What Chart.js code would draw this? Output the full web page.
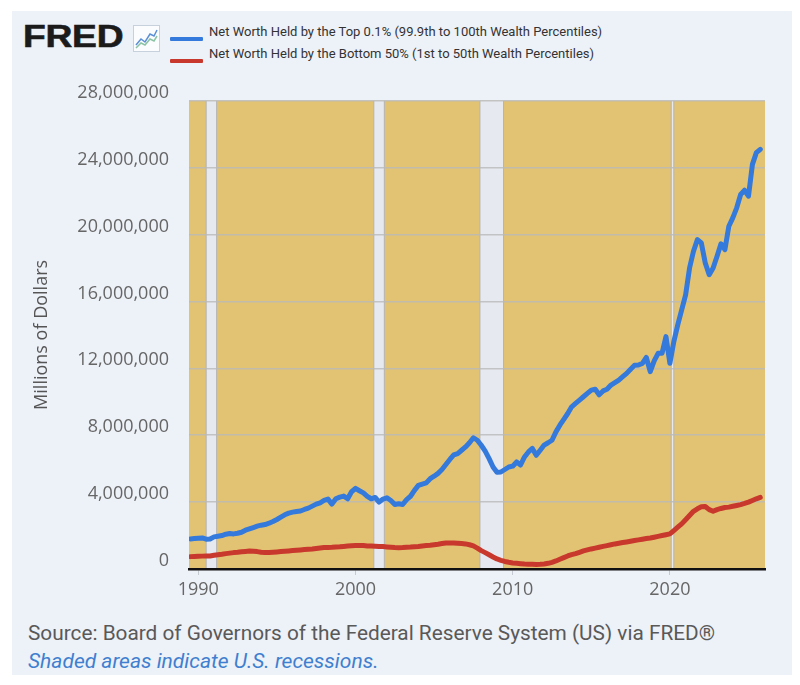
<!DOCTYPE html>
<html>
<head>
<meta charset="utf-8">
<script src="https://cdn.jsdelivr.net/npm/chart.js@4.4.1/dist/chart.umd.min.js"></script>
<style>
html,body{margin:0;padding:0;background:#fff;width:800px;height:685px;overflow:hidden;position:relative}
#panel{position:absolute;left:12px;top:11px;width:780px;height:664px;background:#edf1f8}
#logo{position:absolute;left:23px;top:21px;font:bold 31px "Liberation Sans",Arial,sans-serif;line-height:1;color:#1b1b1b;transform:scaleX(1.2);transform-origin:0 0;letter-spacing:-0.2px;-webkit-text-stroke:0.6px #1b1b1b}
#icon{position:absolute;left:133px;top:25px}
.lg-sw{position:absolute;left:170px;width:33px;height:4px;border-radius:1px}
.lg-tx{position:absolute;left:209px;height:16px;line-height:16px;font:13px Roboto,"Liberation Sans",sans-serif;color:#333;white-space:nowrap}
#chartbox{position:absolute;left:12px;top:70px;width:780px;height:540px}
#source{position:absolute;left:28px;top:621px;height:26px;line-height:26px;font:20.8px Roboto,"Liberation Sans",sans-serif;color:#595959;white-space:nowrap}
#shade{position:absolute;left:28px;top:649px;height:26px;line-height:26px;font:italic 21px Roboto,"Liberation Sans",sans-serif;color:#3f7fcf;white-space:nowrap}
</style>
</head>
<body>
<div id="panel"></div>
<div id="logo">FRED</div>
<svg id="icon" width="27" height="27" viewBox="0 0 27 27">
  <rect x="0.5" y="0.5" width="26" height="26" fill="#fbfcfe" stroke="#c7d1de"/>
  <polyline points="3,20 8,14 12,17 17,9 21,11 24,5" fill="none" stroke="#5b8fd6" stroke-width="1.5"/>
  <polyline points="3,23 8,18 12,20 17,14 21,16 24,11" fill="none" stroke="#8cc3a4" stroke-width="1.5"/>
</svg>
<div id="legend"></div>
<div id="chartbox"><canvas id="c"></canvas></div>
<div id="source">Source: Board of Governors of the Federal Reserve System (US) via FRED®</div>
<div id="shade">Shaded areas indicate U.S. recessions.</div>
<script>
// ---------- DATA ----------
const seriesNames = [
  "Net Worth Held by the Top 0.1% (99.9th to 100th Wealth Percentiles)",
  "Net Worth Held by the Bottom 50% (1st to 50th Wealth Percentiles)"
];
const seriesColors = ["#3479dc", "#c9382c"];

// quarterly observations, 1989-Q3 .. 2025-Q4
const quarters = [];
for (let y = 1989; y <= 2025; y++) {
  for (let q = 1; q <= 4; q++) {
    if (y === 1989 && q < 3) continue;
    quarters.push(y + "-Q" + q);
  }
}

// Millions of Dollars
const top01 = [
  1800000, 1820000,
  1840000, 1860000, 1780000, 1800000,
  1920000, 1960000, 2000000, 2080000,
  2120000, 2100000, 2140000, 2200000,
  2320000, 2400000, 2480000, 2560000,
  2620000, 2660000, 2740000, 2840000,
  2960000, 3100000, 3240000, 3340000,
  3400000, 3440000, 3470000, 3560000,
  3640000, 3760000, 3880000, 3960000,
  4100000, 4180000, 3880000, 4200000,
  4300000, 4360000, 4200000, 4620000,
  4820000, 4680000, 4550000, 4340000,
  4200000, 4280000, 4000000, 4180000,
  4260000, 4100000, 3860000, 3900000,
  3860000, 4150000, 4350000, 4700000,
  5000000, 5080000, 5150000, 5400000,
  5550000, 5720000, 5950000, 6250000,
  6550000, 6820000, 6900000, 7100000,
  7300000, 7550000, 7850000, 7700000,
  7400000, 7050000, 6600000, 6100000,
  5780000, 5800000, 5950000, 6100000,
  6150000, 6400000, 6220000, 6700000,
  7000000, 7210000, 6800000, 7100000,
  7410000, 7550000, 7700000, 8200000,
  8600000, 8950000, 9300000, 9700000,
  9900000, 10100000, 10300000, 10500000,
  10700000, 10750000, 10420000, 10650000,
  10750000, 11000000, 11150000, 11300000,
  11500000, 11700000, 11950000, 12180000,
  12200000, 12300000, 12650000, 11800000,
  12450000, 12900000, 12900000, 13900000,
  12300000, 13600000, 14600000, 15500000,
  16400000, 18000000, 19000000, 19700000,
  19500000, 18300000, 17600000, 18000000,
  18700000, 19450000, 19100000, 20500000,
  21000000, 21600000, 22400000, 22650000,
  22300000, 24200000, 24900000, 25100000
];

const bottom50 = [
  740000, 750000,
  760000, 770000, 780000, 780000,
  820000, 850000, 880000, 920000,
  950000, 980000, 1000000, 1030000,
  1050000, 1070000, 1060000, 1040000,
  1000000, 980000, 980000, 1000000,
  1020000, 1040000, 1060000, 1080000,
  1100000, 1120000, 1140000, 1160000,
  1180000, 1200000, 1230000, 1260000,
  1280000, 1290000, 1300000, 1320000,
  1330000, 1350000, 1370000, 1390000,
  1400000, 1410000, 1400000, 1380000,
  1370000, 1360000, 1350000, 1340000,
  1320000, 1300000, 1280000, 1270000,
  1280000, 1300000, 1310000, 1330000,
  1350000, 1380000, 1400000, 1420000,
  1450000, 1480000, 1520000, 1550000,
  1560000, 1560000, 1540000, 1520000,
  1500000, 1450000, 1380000, 1250000,
  1100000, 980000, 850000, 720000,
  600000, 520000, 450000, 400000,
  360000, 340000, 320000, 300000,
  290000, 280000, 270000, 280000,
  300000, 340000, 400000, 480000,
  580000, 680000, 780000, 860000,
  920000, 1000000, 1080000, 1140000,
  1200000, 1250000, 1300000, 1350000,
  1400000, 1450000, 1500000, 1540000,
  1580000, 1620000, 1660000, 1700000,
  1740000, 1780000, 1820000, 1850000,
  1900000, 1950000, 2000000, 2050000,
  2100000, 2300000, 2500000, 2700000,
  2950000, 3200000, 3450000, 3600000,
  3720000, 3740000, 3550000, 3450000,
  3550000, 3620000, 3680000, 3700000,
  3750000, 3800000, 3850000, 3920000,
  4000000, 4100000, 4200000, 4280000
];

// NBER recessions (start month, end month)
const recessions = [
  ["1990-07", "1991-03"],
  ["2001-03", "2001-11"],
  ["2007-12", "2009-06"],
  ["2020-02", "2020-04"]
];

const xTickLabels = [1990, 2000, 2010, 2020];
const yTickValues = [0, 4000000, 8000000, 12000000, 16000000, 20000000, 24000000, 28000000];
const yAxisTitle = "Millions of Dollars";

// ---------- helpers ----------
function quarterToYear(s) { const [y, q] = s.split("-Q"); return +y + (+q - 1) / 4; }
function monthToYear(s) { const [y, m] = s.split("-"); return +y + (+m - 1) / 12; }

const bgPlugin = {
  id: "fredBackground",
  beforeDraw(chart) {
    const { ctx, chartArea: a, scales: { x } } = chart;
    ctx.save();
    ctx.fillStyle = "#e2c373";
    ctx.fillRect(a.left, a.top, a.width, a.height);
    recessions.forEach(([s, e]) => {
      const x1 = x.getPixelForValue(monthToYear(s));
      const x2 = x.getPixelForValue(monthToYear(e));
      ctx.fillStyle = "#e6e9f0";
      ctx.fillRect(x1, a.top, x2 - x1, a.height);
      ctx.strokeStyle = "#b4b4b4";
      ctx.lineWidth = 1;
      ctx.beginPath();
      ctx.moveTo(x1, a.top); ctx.lineTo(x1, a.bottom);
      ctx.moveTo(x2, a.top); ctx.lineTo(x2, a.bottom);
      ctx.stroke();
    });
    ctx.restore();
  }
};

const tickFont = { family: '"Open Sans", "Noto Sans", sans-serif', size: 18 };

const chart = new Chart(document.getElementById("c"), {
  type: "line",
  data: {
    datasets: [top01, bottom50].map((vals, k) => ({
      label: seriesNames[k],
      data: quarters.map((q, i) => ({ x: quarterToYear(q), y: vals[i] })),
      borderColor: seriesColors[k],
      backgroundColor: seriesColors[k],
      borderWidth: 5,
      pointRadius: 0,
      tension: 0,
      borderJoinStyle: "round",
      borderCapStyle: "round",
      fill: false
    }))
  },
  options: {
    responsive: true,
    maintainAspectRatio: false,
    animation: false,
    layout: { padding: { top: 21, right: 27, left: 0, bottom: 0 } },
    plugins: { legend: { display: false }, tooltip: { enabled: false } },
    scales: {
      x: {
        type: "linear",
        min: 1989.408,
        max: 2026.05,
        afterBuildTicks: s => { s.ticks = xTickLabels.map(v => ({ value: v })); },
        afterFit: s => { s.height = 41; },
        grid: { drawOnChartArea: false, drawTicks: true, tickLength: 6, color: "#c6cad2", lineWidth: 1 },
        border: { display: true, color: "#111", width: 2.5 },
        ticks: { autoSkip: false, maxRotation: 0, padding: 4, color: "#666", font: tickFont, callback: v => String(v) }
      },
      y: {
        min: 0,
        max: 28000000,
        afterBuildTicks: s => { s.ticks = yTickValues.map(v => ({ value: v })); },
        afterFit: s => { s.width = 177; },
        grid: { color: "rgba(185,185,185,0.8)", lineWidth: 1.5, drawTicks: false },
        border: { display: false },
        ticks: { padding: 20, labelOffset: -8, color: "#666", font: tickFont, callback: v => Number(v).toLocaleString("en-US") },
        title: { display: true, text: yAxisTitle, color: "#555", font: tickFont, padding: { top: 19, bottom: 0 } }
      }
    }
  },
  plugins: [bgPlugin]
});

// HTML legend built from the chart's datasets
const legend = document.getElementById("legend");
const swTop = [36.5, 59];
const txTop = [24, 45.5];
chart.data.datasets.forEach((ds, i) => {
  const sw = document.createElement("div");
  sw.className = "lg-sw";
  sw.style.top = swTop[i] + "px";
  sw.style.background = ds.borderColor;
  legend.appendChild(sw);
  const tx = document.createElement("div");
  tx.className = "lg-tx";
  tx.style.top = txTop[i] + "px";
  tx.textContent = ds.label;
  legend.appendChild(tx);
});
</script>
</body>
</html>
